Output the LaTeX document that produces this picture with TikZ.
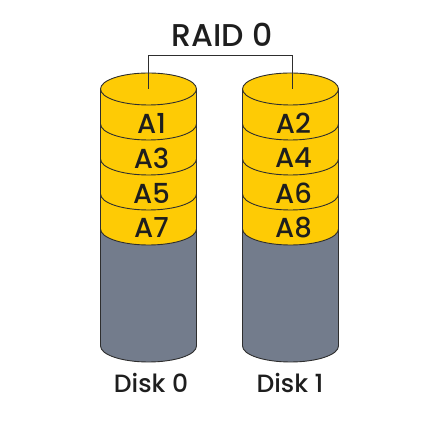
\documentclass[tikz,border=0pt]{standalone}
\usepackage{fontspec}
\setmainfont{Poppins Medium}
\definecolor{diskyellow}{HTML}{FECB05}
\definecolor{diskgray}{HTML}{737C8C}
\definecolor{edgecol}{HTML}{2E2E2E}
\definecolor{txtcol}{HTML}{1E1E1E}
\tikzset{
  outline/.style={draw=edgecol, line width=0.9pt},
  blocklabel/.style={text=txtcol, font=\fontsize{27.5}{31}\selectfont, inner sep=0pt},
  disklabel/.style={text=txtcol, font=\fontsize{25}{29}\selectfont, inner sep=0pt},
  titlelabel/.style={text=txtcol, font=\fontsize{31.5}{35}\selectfont, inner sep=0pt},
  link/.style={draw=edgecol, line width=1pt}
}
\newcommand{\diskcyl}[1]{%
  \fill[diskgray] (#1-48,196) -- (#1-48,79) arc[start angle=180,end angle=360,x radius=48,y radius=16] -- (#1+48,196) -- cycle;
  \fill[diskyellow] (#1-48,336) -- (#1-48,196) arc[start angle=180,end angle=360,x radius=48,y radius=16] -- (#1+48,336) arc[start angle=0,end angle=180,x radius=48,y radius=16] -- cycle;
  \draw[outline] (#1,336) ellipse[x radius=48,y radius=16];
  \foreach \yy in {301,266,231,196}{
    \draw[outline] (#1+48,\yy) arc[start angle=0,end angle=-180,x radius=48,y radius=16];
  }
  \draw[outline] (#1-48,336) -- (#1-48,79) arc[start angle=180,end angle=360,x radius=48,y radius=16] -- (#1+48,336);
}
\begin{document}
\begin{tikzpicture}[x=1pt,y=1pt]
\useasboundingbox (0,0) rectangle (425,425);
\fill[white] (0,0) rectangle (425,425);
\diskcyl{148.5}
\diskcyl{290.5}
\coordinate (top0) at (148.5,336);
\coordinate (top1) at (292,336);
\coordinate (bend0) at (148.5,369);
\draw[link] (top0) -- (bend0) -| (top1);
\node[titlelabel] (raid) at (222,390) {RAID 0};
\node[blocklabel] (a1) at (151.5,302) {A1};
\node[blocklabel] (a3) at (151.5,267) {A3};
\node[blocklabel] (a5) at (151.5,232) {A5};
\node[blocklabel] (a7) at (151.5,197) {A7};
\node[blocklabel] (a2) at (293.5,302) {A2};
\node[blocklabel] (a4) at (293.5,267) {A4};
\node[blocklabel] (a6) at (293.5,232) {A6};
\node[blocklabel] (a8) at (293.5,197) {A8};
\node[disklabel] (d0) at (151,42) {Disk 0};
\node[disklabel] (d1) at (290,42) {Disk 1};
\end{tikzpicture}
\end{document}
